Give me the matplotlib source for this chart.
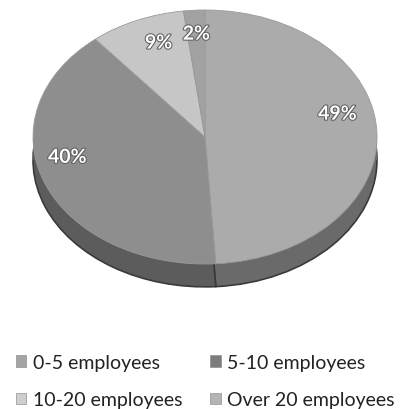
import numpy as np
import matplotlib
matplotlib.use("Agg")
from matplotlib import pyplot as plt
from matplotlib.patches import Rectangle
import matplotlib.patheffects as pe

labels = ["0-5 employees", "5-10 employees", "10-20 employees", "Over 20 employees"]
shares = [49, 40, 9, 2]
top_colors = ["#ababab", "#8e8e8e", "#c6c6c6", "#a2a2a2"]
side_colors = ["#6a6a6a", "#5c5c5c", "#7a7a7a", "#6a6a6a"]
legend_colors = ["#a4a4a4", "#7c7c7c", "#cfcfcf", "#b4b4b4"]

plt.rcParams['font.family'] = ['Lato', 'DejaVu Sans']

fig = plt.figure(figsize=(4.01, 4.10), dpi=100)

# pie top ellipse: x 33..377 px, y 11..265 px, rim depth ~22 px
depth = 0.18
ylow = -1.0 - depth - 0.07
top_px, unit_px = 11, 127
bottom_px = top_px + (1.0 - ylow) * unit_px
ax = fig.add_axes([33 / 401, (410 - bottom_px) / 410, 344 / 401, (bottom_px - top_px) / 410])

# rim: lower pie shifted down plus the band between the two ellipses
ax.pie(shares, colors=side_colors, startangle=90, counterclock=False,
       center=(0, -depth), radius=1.0,
       wedgeprops=dict(linewidth=1.2, edgecolor="#3a3a3a"))
split = np.cos(np.deg2rad(90 - 360 * shares[0] / sum(shares)))
ax.add_patch(Rectangle((-1.0, -depth), 1.0 + split, depth, facecolor=side_colors[1],
                       edgecolor="none", zorder=2))
ax.add_patch(Rectangle((split, -depth), 1.0 - split, depth, facecolor=side_colors[0],
                       edgecolor="none", zorder=2))

wedges, _, pct = ax.pie(shares, colors=top_colors, startangle=90, counterclock=False,
                        radius=1.0, autopct=lambda p: "{:.0f}%".format(p),
                        pctdistance=0.8,
                        wedgeprops=dict(linewidth=0.6, edgecolor="#9a9a9a", zorder=3),
                        textprops=dict(color="white", fontsize=14, fontweight="bold"))

# shift the percentage labels a bit for the tilted view
label_pos = [(0.77, 0.18), (-0.80, -0.16), (-0.27, 0.74), (-0.05, 0.81)]
for t, p in zip(pct, label_pos):
    t.set_position(p)
    t.set_zorder(5)
    t.set_path_effects([pe.withStroke(linewidth=1.5, foreground="#606060")])

ax.set_aspect("auto")
ax.set_xlim(-1.0, 1.0)
ax.set_ylim(ylow, 1.0)
ax.axis("off")

# legend, filled row by row
handles = [Rectangle((0, 0), 1, 1, facecolor=c, edgecolor="#909090", linewidth=0.5)
           for c in legend_colors]
order = [0, 2, 1, 3]
fig.legend([handles[i] for i in order], [labels[i] for i in order],
           ncol=2, loc="upper left", bbox_to_anchor=(0.015, 0.158),
           frameon=False, fontsize=14, handlelength=0.55, handleheight=0.55,
           handletextpad=0.35, columnspacing=1.4, labelspacing=1.05,
           borderpad=0, labelcolor="#222222")

fig.savefig("out.png", dpi=100, facecolor="white")
